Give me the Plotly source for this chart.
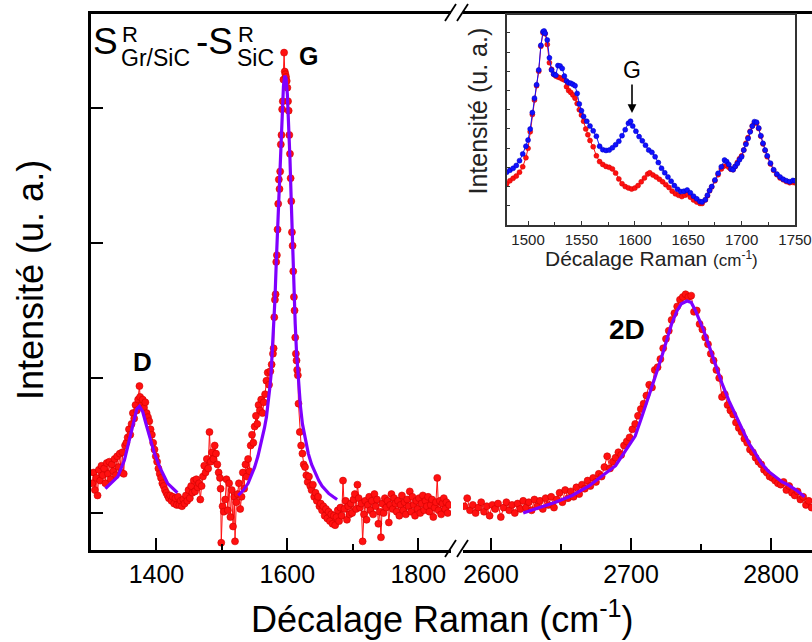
import plotly.graph_objects as go

# ---------------- data ----------------
# main spectrum, left part (cm-1, a.u.; y tick spacing = 1)
left_x = [1302,1304,1306,1308,1310,1312,1314,1316,1318,1320,
          1322,1324,1326,1328,1330,1332,1334,1336,1338,1340,
          1342,1344,1346,1348,1350,1352,1354,1356,1358,1360,
          1362,1364,1366,1368,1370,1372,1374,1375,1377,1379,
          1381,1383,1385,1387,1389,1391,1393,1395,1397,1399,
          1401,1403,1405,1407,1409,1411,1413,1415,1417,1419,
          1421,1423,1425,1427,1429,1431,1433,1435,1437,1439,
          1441,1443,1445,1447,1449,1451,1453,1455,1457,1459,
          1461,1463,1465,1467,1469,1471,1473,1475,1477,1479,
          1481,1483,1485,1487,1489,1491,1493,1495,1497,1498,
          1499,1501,1503,1505,1507,1509,1511,1513,1515,1517,
          1519,1520,1522,1524,1526,1528,1530,1532,1534,1536,
          1538,1540,1542,1544,1546,1548,1550,1552,1554,1556,
          1558,1560,1562,1564,1566,1568,1570,1572,1574,1576,
          1578,1579,1580,1581,1582,1583,1584,1585,1586,1587,
          1588,1589,1590,1591,1592,1593,1594,1595,1596,1597,
          1598,1599,1600,1601,1602,1603,1604,1605,1606,1607,
          1608,1609,1610,1611,1612,1613,1614,1615,1616,1617,
          1619,1621,1623,1625,1627,1629,1631,1633,1635,1637,
          1639,1641,1643,1645,1647,1649,1651,1653,1655,1657,
          1659,1661,1663,1665,1667,1669,1671,1673,1675,1677,
          1679,1681,1683,1685,1687,1689,1691,1693,1695,1697,
          1699,1701,1703,1705,1707,1709,1711,1713,1715,1717,
          1719,1721,1723,1725,1727,1729,1731,1733,1735,1737,
          1739,1741,1743,1745,1747,1749,1751,1753,1755,1757,
          1759,1761,1763,1765,1767,1769,1771,1773,1775,1777,
          1779,1781,1783,1785,1787,1789,1791,1793,1795,1797,
          1799,1801,1803,1805,1807,1809,1811,1813,1815,1817,
          1819,1821,1823,1825,1827,1829,1831,1833,1835,1837,
          1839,1841,1843,1845,1847]
left_y = [0.22,0.30,0.17,0.26,0.13,0.32,0.24,0.35,0.28,0.33,
          0.22,0.37,0.29,0.38,0.25,0.36,0.31,0.40,0.28,0.42,
          0.34,0.44,0.30,0.45,0.29,0.50,0.52,0.56,0.62,0.58,
          0.66,0.74,0.70,0.80,0.76,0.84,0.94,0.86,0.80,0.84,
          0.78,0.82,0.74,0.71,0.68,0.62,0.58,0.52,0.47,0.42,
          0.38,0.33,0.29,0.26,0.22,0.20,0.17,0.15,0.13,0.11,
          0.13,0.09,0.12,0.07,0.11,0.06,0.12,0.06,0.09,0.05,
          0.10,0.07,0.13,0.09,0.17,0.11,0.20,0.15,0.24,0.16,
          0.25,0.19,0.22,0.10,0.20,0.27,0.35,0.30,0.40,0.33,
          0.60,0.38,0.45,0.40,0.50,0.44,0.36,0.30,0.26,0.18,
          -0.22,0.05,0.01,0.10,0.25,0.02,0.22,-0.03,0.17,-0.10,
          0.12,-0.21,0.08,0.14,0.22,0.03,0.12,0.30,0.18,0.36,
          0.27,0.40,0.31,0.50,0.58,0.52,0.64,0.72,0.66,0.80,
          0.76,0.84,0.74,0.82,0.88,0.98,1.04,0.95,1.05,1.10,
          1.18,1.22,1.45,1.58,1.62,1.86,1.91,2.10,2.29,2.47,
          2.40,2.53,2.73,2.80,2.99,3.05,3.21,3.41,3.27,3.25,
          3.23,3.20,3.15,3.05,2.98,2.80,2.66,2.48,2.31,2.08,
          1.98,1.79,1.60,1.50,1.30,1.18,1.13,1.06,1.02,0.81,
          0.60,0.50,0.44,0.36,0.34,0.28,0.23,0.27,0.20,0.17,
          0.21,0.12,0.15,0.09,0.12,0.05,0.07,0.02,0.05,-0.02,
          0.03,-0.04,0.01,-0.06,-0.01,-0.08,-0.02,-0.09,-0.03,0.02,
          -0.06,0.04,-0.02,0.24,0.03,0.09,-0.05,0.05,-0.01,0.07,
          0.00,0.10,0.14,0.03,0.21,0.11,0.04,0.07,-0.21,-0.01,
          0.09,-0.05,0.06,0.12,0.02,0.09,-0.01,0.14,0.05,0.10,
          -0.08,0.01,-0.18,0.07,0.00,0.11,0.04,0.09,-0.07,0.06,
          0.14,0.03,0.11,0.07,0.01,0.09,-0.02,0.06,0.13,0.02,
          0.08,-0.01,0.10,0.05,0.16,0.01,0.12,0.06,-0.02,0.09,
          0.03,0.11,0.00,0.07,0.13,0.02,0.09,0.05,0.12,0.01,
          0.06,0.10,-0.03,0.04,0.08,0.26,0.02,0.09,-0.01,0.07,
          0.11,0.03,0.08,0.00,0.06]

# main spectrum, right part (2D band)
right_x = [2581,2583,2585,2587,2589,2591,2593,2595,2597,2599,
           2601,2603,2605,2607,2609,2611,2613,2615,2617,2619,
           2621,2623,2625,2627,2629,2631,2633,2635,2637,2639,
           2641,2643,2645,2647,2649,2651,2653,2655,2657,2659,
           2661,2663,2665,2667,2669,2671,2673,2675,2677,2679,
           2681,2683,2685,2687,2689,2691,2693,2695,2697,2699,
           2701,2703,2705,2707,2709,2711,2713,2715,2717,2719,
           2721,2723,2725,2727,2729,2731,2733,2735,2737,2739,
           2741,2743,2745,2747,2749,2751,2753,2755,2757,2759,
           2761,2763,2765,2767,2769,2771,2773,2775,2777,2779,
           2781,2783,2785,2787,2789,2791,2793,2795,2797,2799,
           2801,2803,2805,2807,2809,2811,2813,2815,2817,2819,
           2821,2823,2825,2827,2829]
right_y = [0.05,0.11,0.02,0.06,0.00,0.04,0.08,0.01,0.05,-0.02,
           0.06,0.03,0.07,-0.03,0.04,0.08,0.02,0.06,0.00,0.07,
           0.03,0.09,0.04,0.08,0.02,0.10,0.05,0.09,0.03,0.11,
           0.06,0.12,0.04,0.10,0.15,0.08,0.17,0.11,0.16,0.12,
           0.19,0.14,0.21,0.18,0.24,0.20,0.26,0.23,0.29,0.27,
           0.34,0.42,0.33,0.38,0.41,0.45,0.43,0.50,0.53,0.56,
           0.62,0.66,0.72,0.77,0.81,0.87,0.95,0.93,1.06,1.08,
           1.14,1.22,1.29,1.35,1.43,1.48,1.53,1.58,1.60,1.62,
           1.60,1.61,1.49,1.50,1.40,1.36,1.30,1.25,1.18,1.13,
           1.06,1.00,0.86,0.88,0.80,0.76,0.73,0.67,0.63,0.60,
           0.55,0.52,0.47,0.45,0.41,0.38,0.36,0.32,0.30,0.27,
           0.26,0.24,0.22,0.21,0.23,0.17,0.20,0.15,0.13,0.16,
           0.10,0.12,0.06,0.09,0.04]

# Lorentzian fit curves (purple)
d_fit_x = [1322,1330,1341,1351,1356,1362,1366,1370,1374,1379,1384,1389,1397,1405,1417,1432]
d_fit_y = [0.18,0.22,0.27,0.39,0.49,0.61,0.70,0.77,0.79,0.75,0.66,0.57,0.44,0.34,0.22,0.15]
g_fit_x = [1525,1533,1540,1545,1550,1555,1560,1565,1568,1571,1573,1575,1577,1579,1581,1583,
           1585,1587,1589,1590,1592,1594,1596,1598,1600,1602,1604,1606,1608,1610,1612,1614,
           1616,1618,1620,1623,1627,1632,1637,1643,1648,1653,1658,1663,1670,1676]
g_fit_y = [0.13,0.17,0.22,0.28,0.34,0.42,0.52,0.63,0.71,0.82,0.92,1.02,1.18,1.36,1.58,1.85,
           2.10,2.36,2.62,2.73,2.96,3.16,3.24,3.22,3.10,2.88,2.62,2.30,1.97,1.67,1.40,1.19,
           1.04,0.90,0.79,0.66,0.55,0.44,0.36,0.29,0.24,0.20,0.17,0.145,0.12,0.10]
fit2d_x = [2623,2635,2646,2658,2670,2680,2689,2696,2703,2708,2712,2717,2722,2726,2729,2733,
           2736,2740,2743,2746,2749,2752,2755,2760,2765,2770,2774,2779,2784,2789,2793,2798,
           2803,2808,2812,2818,2824]
fit2d_y = [0.00,0.04,0.08,0.13,0.20,0.28,0.35,0.46,0.57,0.72,0.84,1.00,1.16,1.30,1.40,1.50,
           1.55,1.57,1.56,1.50,1.43,1.35,1.26,1.11,0.96,0.83,0.74,0.63,0.52,0.44,0.37,0.31,
           0.27,0.23,0.21,0.17,0.12]

# inset spectra (blue and red)
inset_blue_x = [1480,1483,1486,1489,1492,1495,1498,1500,1502,1504,
                1506,1508,1510,1512,1514,1515,1516,1518,1520,1522,
                1524,1526,1528,1530,1532,1534,1536,1538,1540,1542,
                1544,1546,1548,1550,1552,1555,1558,1561,1564,1567,
                1570,1573,1576,1579,1582,1585,1588,1591,1594,1596,
                1598,1601,1604,1607,1610,1613,1616,1619,1622,1625,
                1628,1631,1634,1637,1640,1643,1646,1649,1652,1655,
                1658,1661,1663,1666,1668,1670,1672,1675,1678,1681,
                1684,1686,1688,1690,1692,1694,1696,1698,1700,1702,
                1704,1706,1708,1710,1712,1714,1716,1718,1720,1722,
                1724,1727,1730,1733,1736,1739,1742,1745,1748,1750]
inset_blue_y = [1.75,1.85,1.95,2.10,2.35,2.70,3.10,3.42,4.00,4.85,
                5.60,6.30,7.07,8.35,9.06,9.10,8.98,8.63,7.70,7.07,
                6.85,6.80,7.30,7.28,7.15,6.75,6.50,6.40,6.38,6.32,
                6.25,5.85,5.30,4.95,4.65,4.40,4.15,3.90,3.62,3.10,
                2.92,2.88,2.90,3.02,3.18,3.36,3.65,3.96,4.30,4.40,
                4.15,3.88,3.60,3.38,3.15,2.90,2.78,2.55,2.25,1.95,
                1.72,1.50,1.28,1.05,0.86,0.74,0.76,0.82,0.68,0.50,
                0.36,0.22,0.20,0.32,0.55,0.80,1.00,1.34,1.69,2.03,
                2.38,2.30,2.15,1.92,1.88,2.05,2.20,2.40,2.55,2.90,
                3.20,3.50,3.85,4.15,4.38,4.35,4.05,3.65,3.25,2.90,
                2.60,2.22,1.88,1.65,1.50,1.38,1.30,1.25,1.32,1.30]
inset_red_x = [1480,1483,1486,1489,1492,1495,1498,1500,1502,1504,
               1506,1508,1510,1512,1514,1515,1516,1518,1520,1522,
               1524,1526,1528,1530,1532,1534,1536,1538,1540,1542,
               1544,1546,1548,1550,1552,1554,1556,1558,1561,1564,
               1567,1570,1573,1576,1579,1582,1585,1588,1591,1594,
               1597,1600,1603,1606,1609,1612,1614,1617,1620,1623,
               1626,1629,1632,1635,1638,1641,1644,1647,1649,1652,
               1655,1658,1661,1663,1666,1668,1670,1672,1675,1678,
               1681,1683,1686,1688,1690,1692,1694,1696,1698,1700,
               1702,1704,1706,1708,1710,1712,1714,1716,1718,1720,
               1722,1724,1727,1730,1733,1736,1739,1742,1745,1748,
               1750]
inset_red_y = [1.15,1.30,1.43,1.55,1.75,2.03,2.50,2.99,3.85,4.75,
               5.50,6.25,7.00,8.30,9.00,9.05,8.95,8.40,7.45,7.10,
               6.85,6.75,6.70,6.66,6.60,6.55,6.20,6.00,5.90,5.77,
               5.60,5.33,5.00,4.72,4.40,4.00,3.70,3.40,3.07,2.60,
               2.30,2.15,2.05,2.00,1.92,1.70,1.40,1.15,1.00,0.93,
               0.87,0.92,1.05,1.25,1.45,1.65,1.72,1.60,1.50,1.38,
               1.25,1.10,0.95,0.76,0.62,0.55,0.48,0.55,0.62,0.45,
               0.30,0.20,0.12,0.12,0.30,0.52,0.78,0.98,1.30,1.62,
               1.92,2.05,2.10,2.00,1.90,1.88,2.05,2.25,2.45,2.60,
               2.90,3.25,3.55,3.88,4.15,4.32,4.30,4.02,3.62,3.22,
               2.88,2.55,2.18,1.85,1.62,1.45,1.35,1.26,1.20,1.22,
               1.20]

left_ticks = [1400, 1600, 1800]
right_ticks = [2600, 2700, 2800]
inset_ticks = [1500, 1550, 1600, 1650, 1700, 1750]

assert len(left_x) == len(left_y)
assert len(right_x) == len(right_y)
assert len(inset_blue_x) == len(inset_blue_y)
assert len(inset_red_x) == len(inset_red_y)
assert len(d_fit_x) == len(d_fit_y) and len(g_fit_x) == len(g_fit_y) and len(fit2d_x) == len(fit2d_y)

# ---------------- layout helpers ----------------
W, H = 812, 642
ML, MR, MT, MB = 91, 0, 14, 92
PW = W - ML - MR
PH = H - MT - MB
def fx(px):
    return (px - ML) / PW
def fy(py):
    return (H - MB - py) / PH

FONT = "Liberation Sans, Arial, sans-serif"
RED = "#ff1010"
PURPLE = "#7f00ff"
BLUE = "#1010ff"

data_marker = dict(size=7, color=RED, line=dict(color="#d00000", width=0.6))

fig = go.Figure()
fig.add_trace(go.Scatter(x=left_x, y=left_y, xaxis="x", yaxis="y", mode="lines+markers",
                         line=dict(color=RED, width=1), marker=data_marker, showlegend=False))
fig.add_trace(go.Scatter(x=right_x, y=right_y, xaxis="x2", yaxis="y", mode="lines+markers",
                         line=dict(color=RED, width=1), marker=data_marker, showlegend=False))
for fxs, fys, ax in [(d_fit_x, d_fit_y, "x"), (g_fit_x, g_fit_y, "x"), (fit2d_x, fit2d_y, "x2")]:
    fig.add_trace(go.Scatter(x=fxs, y=fys, xaxis=ax, yaxis="y", mode="lines",
                             line=dict(color=PURPLE, width=3.2), showlegend=False))
fig.add_trace(go.Scatter(x=inset_red_x, y=inset_red_y, xaxis="x3", yaxis="y3", mode="lines+markers",
                         line=dict(color=RED, width=1),
                         marker=dict(size=5, color=RED, line=dict(color="#d00000", width=0.5)),
                         showlegend=False))
fig.add_trace(go.Scatter(x=inset_blue_x, y=inset_blue_y, xaxis="x3", yaxis="y3", mode="lines+markers",
                         line=dict(color=BLUE, width=1),
                         marker=dict(size=5, color=BLUE, line=dict(color="#0000c0", width=0.5)),
                         showlegend=False))

main_x = dict(showline=True, linecolor="black", linewidth=2.5, mirror=True,
              ticks="inside", ticklen=12, tickwidth=2, tickcolor="black",
              showgrid=False, zeroline=False, automargin=False,
              tickfont=dict(family=FONT, size=25, color="black"), anchor="y")

fig.update_layout(
    width=W, height=H,
    margin=dict(l=ML, r=MR, t=MT, b=MB, autoexpand=False),
    paper_bgcolor="white", plot_bgcolor="white",
    xaxis=dict(domain=[0, fx(451)], range=[1300, 1850], tickvals=left_ticks,
               minor=dict(tickvals=[1500, 1700], ticks="inside", ticklen=6, tickwidth=2, tickcolor="black"),
               **main_x),
    xaxis2=dict(domain=[fx(463), 1], range=[2580, 2829.3], tickvals=right_ticks,
                minor=dict(tickvals=[2650, 2750], ticks="inside", ticklen=6, tickwidth=2, tickcolor="black"),
                **main_x),
    yaxis=dict(domain=[0, 1], range=[-0.274, 3.696], tickvals=[0, 1, 2, 3], showticklabels=False,
               ticks="inside", ticklen=12, tickwidth=2, tickcolor="black",
               showline=True, linecolor="black", linewidth=2.5, showgrid=False, zeroline=False,
               anchor="x", automargin=False),
    xaxis3=dict(domain=[fx(506.7), fx(795)], range=[1480, 1750], tickvals=inset_ticks,
                minor=dict(tickvals=[1525, 1575, 1625, 1675, 1725], ticks="inside", ticklen=3,
                           tickwidth=1, tickcolor="#333"),
                ticks="inside", ticklen=4, tickwidth=1, tickcolor="#333",
                showline=True, linecolor="#333", linewidth=1.5, mirror=True,
                showgrid=False, zeroline=False, anchor="y3", automargin=False,
                tickfont=dict(family=FONT, size=15, color="#222")),
    yaxis3=dict(domain=[fy(225), fy(15)], range=[-1, 9.93], tickvals=list(range(0, 10)),
                showticklabels=False, ticks="inside", ticklen=4, tickwidth=1, tickcolor="#333",
                showline=True, linecolor="#333", linewidth=1.5, mirror=True,
                showgrid=False, zeroline=False, anchor="x3", automargin=False),
)

def ann(text, px, py, size, bold=False, xanchor="center", yanchor="middle", angle=0, color="black"):
    t = f"<b>{text}</b>" if bold else text
    fig.add_annotation(text=t, x=fx(px), y=fy(py), xref="paper", yref="paper",
                       xanchor=xanchor, yanchor=yanchor, showarrow=False, textangle=angle,
                       font=dict(family=FONT, size=size, color=color))

# axis titles
ann("Décalage Raman (cm<sup>-1</sup>)", 442, 617, 36)
ann("Intensité (u. a.)", 30, 280, 36, angle=-90)
ann("Intensité (u. a.)", 477, 111.5, 25, angle=-90, color="#222")
ann("Décalage Raman <span style='font-size:17px'>(cm<sup>-1</sup>)</span>", 651, 258, 21, color="#222")

# S^R_{Gr/SiC} - S^R_{SiC}
ann("S", 91, 41.5, 37, xanchor="left")
ann("R", 120, 34.5, 22, xanchor="left")
ann("Gr/SiC", 119, 58, 23, xanchor="left")
ann("-S", 194, 41.5, 37, xanchor="left")
ann("R", 236, 34.5, 22, xanchor="left")
ann("SiC", 235, 58, 23, xanchor="left")

# peak labels
ann("G", 308, 55.5, 25, bold=True)
ann("D", 142.5, 362, 26, bold=True)
ann("2D", 626.5, 329, 28, bold=True)

# inset G with arrow
fig.add_annotation(text="G", x=fx(632), y=fy(113), xref="paper", yref="paper",
                   ax=0, ay=-43, showarrow=True, arrowhead=2, arrowsize=1.1, arrowwidth=1.6,
                   arrowcolor="black", standoff=0,
                   font=dict(family=FONT, size=23, color="black"))

# axis-break marks
for base in (550, 14):
    for x0 in (445, 457):
        fig.add_shape(type="line", xref="paper", yref="paper",
                      x0=fx(x0), y0=fy(base + 7), x1=fx(x0 + 11), y1=fy(base - 10),
                      line=dict(color="black", width=1.8))

fig.write_html("out.html", config={"displayModeBar": False},
               post_script="document.body.style.margin='0px';document.body.style.overflow='hidden';")
